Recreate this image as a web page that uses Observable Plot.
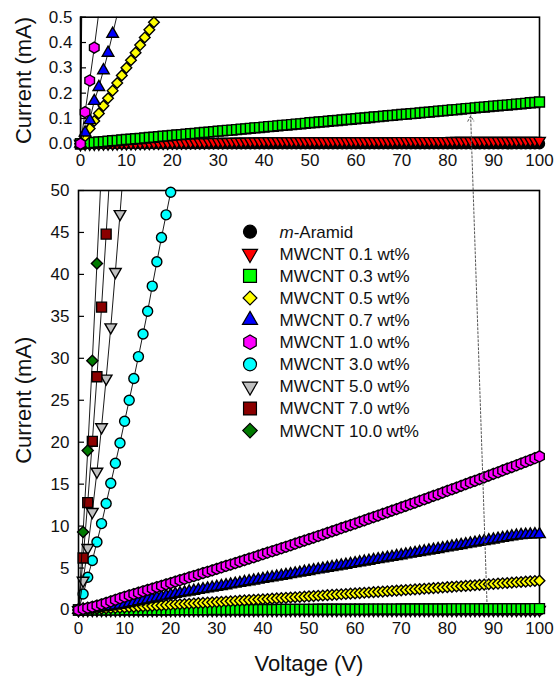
<!DOCTYPE html>
<html><head><meta charset="utf-8">
<script src="https://cdn.jsdelivr.net/npm/d3@7"></script>
<script src="https://cdn.jsdelivr.net/npm/@observablehq/plot@0.6"></script>
<style>
html,body{margin:0;padding:0;background:#fff;}
#wrap{position:relative;width:555px;height:676px;overflow:hidden;background:#fff;font-family:"Liberation Sans",Arial,sans-serif;}
#wrap svg{position:absolute;left:0;top:0;}
</style></head><body><div id="wrap"></div>
<script>
// ---------------- data ----------------
const xTicks = [0,10,20,30,40,50,60,70,80,90,100];
const yTicksTop = [0,0.1,0.2,0.3,0.4,0.5];
const yTicksBottom = [0,5,10,15,20,25,30,35,40,45,50];
const seriesNames = ["m-Aramid","MWCNT 0.1 wt%","MWCNT 0.3 wt%","MWCNT 0.5 wt%","MWCNT 0.7 wt%","MWCNT 1.0 wt%","MWCNT 3.0 wt%","MWCNT 5.0 wt%","MWCNT 7.0 wt%","MWCNT 10.0 wt%"];

const voltage = [
 0,1,2,3,4,5,6,7,8,9,
 10,11,12,13,14,15,16,17,18,19,
 20,21,22,23,24,25,26,27,28,29,
 30,31,32,33,34,35,36,37,38,39,
 40,41,42,43,44,45,46,47,48,49,
 50,51,52,53,54,55,56,57,58,59,
 60,61,62,63,64,65,66,67,68,69,
 70,71,72,73,74,75,76,77,78,79,
 80,81,82,83,84,85,86,87,88,89,
 90,91,92,93,94,95,96,97,98,99,
 100];

const currentAramid = [
 0,0,0,0,0,0,0,0,0,0,
 0,0,0,0,0,0,0,0,0,0,
 0,0,0,0,0,0,0,0,0,0,
 0,0,0,0,0,0,0,0,0,0,
 0,0,0,0,0,0,0,0,0,0,
 0,0,0,0,0,0,0,0,0,0,
 0,0,0,0,0,0,0,0,0,0,
 0,0,0,0,0,0,0,0,0,0,
 0,0,0,0,0,0,0,0,0,0,
 0,0,0,0,0,0,0,0,0,0,
 0];

const current01 = [
 0.0000,0.0003,0.0005,0.0008,0.0010,0.0013,0.0015,0.0018,0.0020,0.0023,
 0.0025,0.0028,0.0030,0.0033,0.0035,0.0038,0.0040,0.0043,0.0045,0.0048,
 0.0050,0.0053,0.0055,0.0058,0.0060,0.0063,0.0065,0.0068,0.0070,0.0073,
 0.0075,0.0078,0.0080,0.0083,0.0085,0.0088,0.0090,0.0093,0.0095,0.0098,
 0.0100,0.0100,0.0101,0.0101,0.0101,0.0102,0.0102,0.0102,0.0103,0.0103,
 0.0103,0.0104,0.0104,0.0104,0.0105,0.0105,0.0105,0.0106,0.0106,0.0106,
 0.0107,0.0107,0.0107,0.0108,0.0108,0.0108,0.0109,0.0109,0.0109,0.0110,
 0.0110,0.0110,0.0111,0.0111,0.0111,0.0112,0.0112,0.0112,0.0113,0.0113,
 0.0113,0.0114,0.0114,0.0114,0.0115,0.0115,0.0115,0.0116,0.0116,0.0116,
 0.0117,0.0117,0.0117,0.0118,0.0118,0.0118,0.0119,0.0119,0.0119,0.0120,
 0.0120];

const current03 = [
 0.000,0.002,0.003,0.005,0.007,0.008,0.010,0.012,0.013,0.015,
 0.017,0.018,0.020,0.021,0.023,0.025,0.026,0.028,0.030,0.031,
 0.033,0.035,0.036,0.038,0.040,0.041,0.043,0.045,0.046,0.048,
 0.050,0.051,0.053,0.054,0.056,0.058,0.059,0.061,0.063,0.064,
 0.066,0.068,0.069,0.071,0.073,0.074,0.076,0.078,0.079,0.081,
 0.083,0.084,0.086,0.087,0.089,0.091,0.092,0.094,0.096,0.097,
 0.099,0.101,0.102,0.104,0.106,0.107,0.109,0.111,0.112,0.114,
 0.116,0.117,0.119,0.120,0.122,0.124,0.125,0.127,0.129,0.130,
 0.132,0.134,0.135,0.137,0.139,0.140,0.142,0.144,0.145,0.147,
 0.149,0.150,0.152,0.153,0.155,0.157,0.158,0.160,0.162,0.163,
 0.165];

const current05 = [
 0,0.03,0.06,0.09,0.12,0.15,0.18,0.21,0.24,0.27,
 0.30,0.33,0.36,0.39,0.42,0.45,0.48,0.515,0.55,0.585,
 0.620,0.652,0.684,0.716,0.749,0.781,0.814,0.846,0.879,0.912,
 0.945,0.978,1.011,1.044,1.078,1.111,1.145,1.178,1.212,1.246,
 1.280,1.314,1.348,1.382,1.417,1.451,1.486,1.520,1.555,1.590,
 1.625,1.660,1.695,1.730,1.766,1.801,1.837,1.872,1.908,1.944,
 1.980,2.016,2.052,2.088,2.125,2.161,2.198,2.234,2.271,2.308,
 2.345,2.382,2.419,2.456,2.494,2.531,2.569,2.606,2.644,2.682,
 2.720,2.758,2.796,2.834,2.873,2.911,2.950,2.988,3.027,3.066,
 3.105,3.144,3.183,3.222,3.262,3.301,3.341,3.380,3.420,3.460,
 3.500];

const current07 = [
 0,0.044,0.093,0.169,0.224,0.290,0.359,0.434,0.51,0.60,
 0.70,0.81,0.92,1.03,1.14,1.25,1.36,1.47,1.58,1.69,
 1.80,1.90,2.00,2.09,2.19,2.28,2.38,2.47,2.56,2.66,
 2.75,2.85,2.94,3.03,3.13,3.22,3.32,3.41,3.50,3.60,
 3.69,3.79,3.88,3.97,4.07,4.16,4.26,4.35,4.44,4.54,
 4.63,4.73,4.82,4.91,5.01,5.10,5.20,5.29,5.38,5.48,
 5.57,5.67,5.76,5.85,5.95,6.04,6.14,6.23,6.32,6.42,
 6.51,6.61,6.70,6.79,6.89,6.98,7.08,7.17,7.26,7.36,
 7.45,7.55,7.64,7.73,7.83,7.92,8.02,8.11,8.20,8.30,
 8.39,8.49,8.58,8.67,8.77,8.86,8.92,8.96,8.99,9.01,
 9.02];

const current10 = [
 0,0.125,0.25,0.38,0.52,0.67,0.84,1.02,1.21,1.40,
 1.58,1.74,1.90,2.06,2.23,2.39,2.55,2.72,2.88,3.05,
 3.21,3.38,3.55,3.71,3.88,4.05,4.22,4.39,4.56,4.73,
 4.90,5.07,5.25,5.42,5.59,5.77,5.94,6.12,6.29,6.47,
 6.65,6.83,7.00,7.18,7.36,7.54,7.72,7.90,8.09,8.27,
 8.45,8.63,8.82,9.00,9.19,9.37,9.56,9.75,9.93,10.12,
 10.31,10.50,10.69,10.88,11.07,11.26,11.45,11.64,11.84,12.03,
 12.22,12.42,12.61,12.81,13.00,13.20,13.40,13.60,13.79,13.99,
 14.19,14.39,14.59,14.79,15.00,15.20,15.40,15.60,15.81,16.01,
 16.22,16.42,16.63,16.84,17.04,17.25,17.46,17.67,17.88,18.09,
 18.30];

const voltage30 = [0,1,2,3,4,5,6,7,8,9,10,11,12,13,14,15,16,17,18,19,20];
const current30 = [0,1.9,3.9,5.9,8.1,10.3,12.7,15.1,17.5,19.9,22.5,25.0,27.6,30.2,32.9,35.6,38.6,41.5,44.4,47.1,49.8];
const voltage50 = [0,1,2,3,4,5,6,7,8,9,10];
const current50 = [0,3.5,7.4,11.7,16.5,21.8,27.6,33.7,40.3,47.2,54.2];
const voltage70 = [0,1,2,3,4,5,6,7];
const current70 = [0,6.2,12.8,20.1,27.8,36.1,44.8,54.0];
const voltage100 = [0,1,2,3,4,5];
const current100 = [0,9.3,19.0,29.7,41.3,52.9];

// dotted arrow: from the 0.3 wt% curve in the lower panel up to the same curve in the upper panel
const arrowFrom = {V: 88.6, I: 1.0};   // lower panel (mA)
const arrowTo = {V: 85, I: 0.11};      // upper panel (mA)

// ---------------- styles ----------------
const FONT = '"Liberation Sans", Arial, sans-serif';
const triangleDown = {draw(ctx, size) {
  const y = -Math.sqrt(size / (Math.sqrt(3) * 3));
  ctx.moveTo(0, -2 * y); ctx.lineTo(-Math.sqrt(3) * y, y); ctx.lineTo(Math.sqrt(3) * y, y); ctx.closePath();
}};
const hexagon = {draw(ctx, size) {
  const rx = Math.sqrt(size / Math.PI), ry = rx * 2 / Math.sqrt(3), hy = ry / 2;
  ctx.moveTo(0, ry); ctx.lineTo(rx, hy); ctx.lineTo(rx, -hy); ctx.lineTo(0, -ry); ctx.lineTo(-rx, -hy); ctx.lineTo(-rx, hy); ctx.closePath();
}};
const styleOf = [
  {fill: "#000000", symbol: d3.symbolCircle, r: 5},
  {fill: "#ff0000", symbol: triangleDown, r: 4.3},
  {fill: "#00ff00", symbol: d3.symbolSquare, r: 5.6},
  {fill: "#ffff00", symbol: d3.symbolDiamond2, r: 4.8},
  {fill: "#0000ff", symbol: d3.symbolTriangle, r: 4.3},
  {fill: "#ff00ff", symbol: hexagon, r: 4.8},
  {fill: "#00ffff", symbol: d3.symbolCircle, r: 5},
  {fill: "#c0c0c0", symbol: triangleDown, r: 4.3},
  {fill: "#8b0000", symbol: d3.symbolSquare, r: 5.6},
  {fill: "#007a00", symbol: d3.symbolDiamond2, r: 5.0}
];

const pairs = [
  [voltage, currentAramid], [voltage, current01], [voltage, current03], [voltage, current05],
  [voltage, current07], [voltage, current10], [voltage30, current30], [voltage50, current50],
  [voltage70, current70], [voltage100, current100]
];
const series = pairs.map(([vs, is], k) => ({name: seriesNames[k], data: vs.map((v, j) => ({V: v, I: is[j]}))}));
const drawOrder = [6, 7, 8, 9, 0, 1, 2, 3, 4, 5];

function seriesMarks(yMax) {
  const marks = [];
  for (const k of drawOrder) {
    const s = series[k], st = styleOf[k];
    marks.push(Plot.line(s.data, {x: "V", y: "I", stroke: "#000", strokeWidth: 0.9, clip: true}));
    marks.push(Plot.dot(s.data, {x: "V", y: "I", filter: d => d.I <= yMax, symbol: st.symbol, fill: st.fill, stroke: "#000", strokeWidth: 1.4, r: st.r}));
  }
  return marks;
}

const W = 555;
const wrap = document.getElementById("wrap");

// ---------------- upper panel ----------------
const topM = {top: 16.7, bottom: 36.7, left: 80, right: 16}, topH = 180;
const topPlot = Plot.plot({
  width: W, height: topH,
  marginTop: topM.top, marginBottom: topM.bottom, marginLeft: topM.left, marginRight: topM.right,
  style: {background: "transparent", fontFamily: FONT, color: "#111", overflow: "visible"},
  x: {domain: [0, 100]},
  y: {domain: [0, 0.5]},
  marks: [
    Plot.frame({stroke: "#000", strokeWidth: 1.6}),
    Plot.tickX(xTicks, {x: d => d, stroke: "#000", strokeWidth: 1.2, insetTop: topH - topM.top - topM.bottom - 6}),
    Plot.tickY(yTicksTop, {y: d => d, stroke: "#000", strokeWidth: 1.2, insetRight: W - topM.left - topM.right - 6}),
    ...seriesMarks(0.5),
    Plot.axisX(xTicks, {tickSize: 0, tickPadding: 10.5, fontSize: 17, label: null}),
    Plot.axisY(yTicksTop, {tickSize: 0, tickPadding: 8, fontSize: 17, tickFormat: d3.format(".1f"), label: null}),
    Plot.text(["Current (mA)"], {frameAnchor: "left", textAnchor: "middle", lineAnchor: "middle", dx: -57, rotate: -90, fontSize: 22, text: d => d, fill: "#111"})
  ]
});
wrap.appendChild(topPlot);

// ---------------- lower panel ----------------
const botM = {top: 190, bottom: 66.5, left: 78, right: 16}, botH = 676;
const botX = Plot.scale({x: {domain: [0, 100], range: [botM.left, W - botM.right]}});
const botY = Plot.scale({y: {domain: [0, 50], range: [botH - botM.bottom, botM.top]}});
const tx = topPlot.scale("x"), ty = topPlot.scale("y");
const arrowData = [{
  x1: arrowFrom.V, y1: arrowFrom.I,
  x2: botX.invert(tx.apply(arrowTo.V)), y2: botY.invert(ty.apply(arrowTo.I))
}];

const botPlot = Plot.plot({
  width: W, height: botH,
  marginTop: botM.top, marginBottom: botM.bottom, marginLeft: botM.left, marginRight: botM.right,
  style: {background: "transparent", fontFamily: FONT, color: "#111", overflow: "visible"},
  x: {domain: [0, 100]},
  y: {domain: [0, 50]},
  marks: [
    Plot.frame({stroke: "#000", strokeWidth: 1.6}),
    Plot.tickX(xTicks, {x: d => d, stroke: "#000", strokeWidth: 1.2, insetTop: botH - botM.top - botM.bottom - 6}),
    Plot.tickY(yTicksBottom, {y: d => d, stroke: "#000", strokeWidth: 1.2, insetRight: W - botM.left - botM.right - 6}),
    ...seriesMarks(50),
    Plot.axisX(xTicks, {tickSize: 0, tickPadding: 11.5, fontSize: 17, label: null}),
    Plot.axisY(yTicksBottom, {tickSize: 0, tickPadding: 9, fontSize: 17, label: null}),
    Plot.text(["Current (mA)"], {frameAnchor: "left", textAnchor: "middle", lineAnchor: "middle", dx: -55, rotate: -90, fontSize: 22, text: d => d, fill: "#111"}),
    Plot.text(["Voltage (V)"], {frameAnchor: "bottom", textAnchor: "middle", lineAnchor: "middle", dy: 54, fontSize: 22, text: d => d, fill: "#111"}),
    Plot.arrow(arrowData, {x1: "x1", y1: "y1", x2: "x2", y2: "y2", stroke: "#555", strokeWidth: 1, strokeDasharray: "2,2", headLength: 9, headAngle: 60, insetStart: 0, insetEnd: 0})
  ]
});
wrap.appendChild(botPlot);

// ---------------- legend ----------------
const leg = d3.create("svg").attr("width", W).attr("height", botH).style("pointer-events", "none");
const legX = 250, legTextX = 279.5, legY0 = 231.7, legDy = 22.1;
seriesNames.forEach((name, k) => {
  const st = styleOf[k], y = legY0 + k * legDy, rr = st.r * 1.3;
  leg.append("path")
    .attr("d", d3.symbol(st.symbol, Math.PI * rr * rr)())
    .attr("transform", `translate(${legX},${y})`)
    .attr("fill", st.fill).attr("stroke", "#000").attr("stroke-width", 1.2);
  const t = leg.append("text").attr("x", legTextX).attr("y", y).attr("dy", "0.35em")
    .attr("font-family", FONT).attr("font-size", 17).attr("fill", "#111");
  if (name.startsWith("m-")) {
    t.append("tspan").attr("font-style", "italic").text("m");
    t.append("tspan").text(name.slice(1));
  } else t.text(name);
});
wrap.appendChild(leg.node());
</script></body></html>
